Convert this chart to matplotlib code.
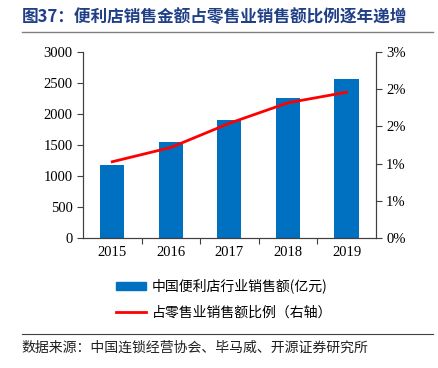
import matplotlib.pyplot as plt
from matplotlib.ticker import FuncFormatter, MultipleLocator
from matplotlib.lines import Line2D
from matplotlib.patches import Patch

plt.rcParams['font.family'] = ['Noto Sans CJK SC', 'DejaVu Sans']

years = ['2015', '2016', '2017', '2018', '2019']
sales = [1180, 1545, 1905, 2264, 2556]          # 亿元
share = [1.23, 1.46, 1.85, 2.18, 2.35]          # %

bar_color = '#0070C0'
line_color = '#FF0000'
num_font = {'family': 'Liberation Serif', 'size': 10.5}

fig = plt.figure(figsize=(4.39, 3.68), dpi=100)
ax = fig.add_axes([0.189, 0.353, 0.667, 0.506])
ax2 = ax.twinx()

x = range(len(years))
ax.bar(x, sales, width=0.41, color=bar_color, zorder=2)
ax2.plot(x, share, color=line_color, lw=2, zorder=3)

ax.set_xlim(-0.5, 4.5)
ax.set_ylim(0, 3000)
ax.yaxis.set_major_locator(MultipleLocator(500))
ax2.set_ylim(0, 3)
ax2.yaxis.set_major_locator(MultipleLocator(0.6))
ax2.yaxis.set_major_formatter(FuncFormatter(lambda v, p: '%.0f%%' % v))

ax.set_xticks([i + 0.5 for i in range(4)])
ax.set_xticklabels([])
ax.set_xticks(list(x), minor=True)
ax.set_xticklabels(years, minor=True, fontdict=num_font)
ax.tick_params(axis='x', which='major', length=4, direction='out', color='#404040')
ax.tick_params(axis='x', which='minor', length=0, pad=6)
ax.tick_params(axis='y', length=4, direction='out', color='#404040')
ax2.tick_params(axis='y', length=4, direction='out', color='#404040')
for lab in ax.get_yticklabels() + ax2.get_yticklabels():
    lab.set_fontproperties('Liberation Serif')
    lab.set_fontsize(10.5)

for a in (ax, ax2):
    a.spines['top'].set_visible(False)
    for s in ('left', 'right', 'bottom'):
        a.spines[s].set_color('#404040')

# 图例
handles = [Patch(color=bar_color), Line2D([0], [0], color=line_color, lw=2)]
labels = ['中国便利店行业销售额(亿元)', '占零售业销售额比例（右轴）']
fig.legend(handles, labels, loc='center left', bbox_to_anchor=(0.264, 0.1875),
           frameon=False, fontsize=10, handlelength=2.15, handleheight=0.5,
           handletextpad=0.45, labelspacing=0.85, borderpad=0, borderaxespad=0)

# 标题和来源
fig.text(0.05, 0.955, '图37：便利店销售金额占零售业销售额比例逐年递增',
         fontsize=12, fontweight='bold', color='#1F3F87', va='center')
fig.add_artist(Line2D([0.05, 0.986], [0.913, 0.913], color='#808080', lw=1))
fig.add_artist(Line2D([0.05, 0.986], [0.092, 0.092], color='#404040', lw=0.8))
fig.text(0.05, 0.054, '数据来源：中国连锁经营协会、毕马威、开源证券研究所',
         fontsize=10, color='#202020', va='center')

fig.savefig('out.png', dpi=100)
